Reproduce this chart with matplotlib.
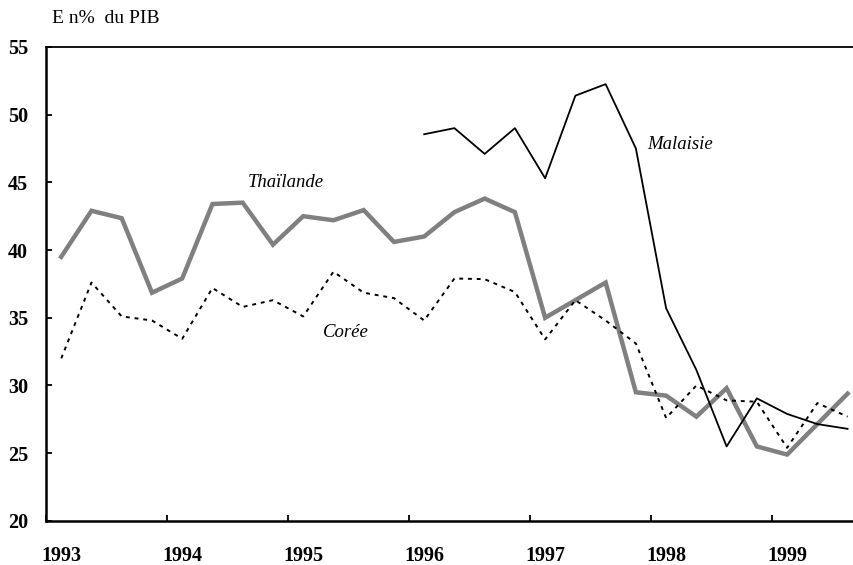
import numpy as np
import matplotlib.pyplot as plt

# Trimestres de 1993T1 a 1999T3
annees = [1993, 1994, 1995, 1996, 1997, 1998, 1999]
etiquettes = ['1993', '1994', '1995', '1996', '1997', '1998', '1999']

thailande = [39.5, 42.9, 42.35, 36.85, 37.9, 43.4, 43.5, 40.4, 42.5, 42.2,
             42.95, 40.6, 41.0, 42.8, 43.8, 42.8, 35.0, 36.3, 37.6, 29.5,
             29.25, 27.7, 29.8, 25.5, 24.9, 27.15, 29.4]

coree = [32.0, 37.6, 35.1, 34.8, 33.45, 37.2, 35.8, 36.3, 35.1, 38.4,
         36.85, 36.45, 34.8, 37.9, 37.85, 36.9, 33.4, 36.3, 34.8, 33.1,
         27.6, 30.0, 28.9, 28.8, 25.4, 28.7, 27.7]

# Malaisie : debut en 1996T1
malaisie = [48.55, 49.0, 47.1, 49.0, 45.3, 51.4, 52.25, 47.5, 35.7, 31.15,
            25.5, 29.05, 27.9, 27.15, 26.8]

n = len(thailande)
x = 1993 + (np.arange(n) + 0.5) / 4
x_mal = x[n - len(malaisie):]

plt.rcParams['font.family'] = ['Liberation Serif', 'DejaVu Serif']

fig = plt.figure(figsize=(8.54, 5.65), dpi=100)
ax = fig.add_axes([0.054, 0.078, 0.946, 0.839])

ax.plot(x, thailande, color='#808080', lw=3.2, solid_joinstyle='miter')
ax.plot(x, coree, color='black', lw=1.4, linestyle=(0, (2, 2.5)))
ax.plot(x_mal, malaisie, color='black', lw=1.3)

ax.text(1994.98, 45.0, 'Thaïlande', style='italic', fontsize=13.5, ha='center', va='center')
ax.text(1995.48, 33.9, 'Corée', style='italic', fontsize=13.5, ha='center', va='center')
ax.text(1998.24, 47.76, 'Malaisie', style='italic', fontsize=13.5, ha='center', va='center')

ax.set_xlim(1993, 1999.678)
ax.set_ylim(20, 55)

ax.set_xticks(annees)
ax.set_xticklabels([])
ax.set_xticks([a + 0.125 for a in annees], minor=True)
ax.set_xticklabels(etiquettes, minor=True, fontsize=14.5, fontweight='bold')
ax.tick_params(axis='x', which='major', direction='in', length=4, width=1.3)
ax.tick_params(axis='x', which='minor', length=0, pad=18)

ax.set_yticks(range(20, 56, 5))
ax.set_yticklabels([str(v) for v in range(20, 56, 5)], fontsize=14.5, fontweight='bold')
ax.tick_params(axis='y', direction='in', length=4, width=1.3, pad=13)

for s in ['left', 'bottom']:
    ax.spines[s].set_linewidth(1.8)
ax.spines['top'].set_linewidth(1.3)
ax.spines['right'].set_visible(False)

fig.text(0.061, 0.968, 'E n%  du PIB', fontsize=14, ha='left', va='center')

fig.savefig('out.png', dpi=100)
